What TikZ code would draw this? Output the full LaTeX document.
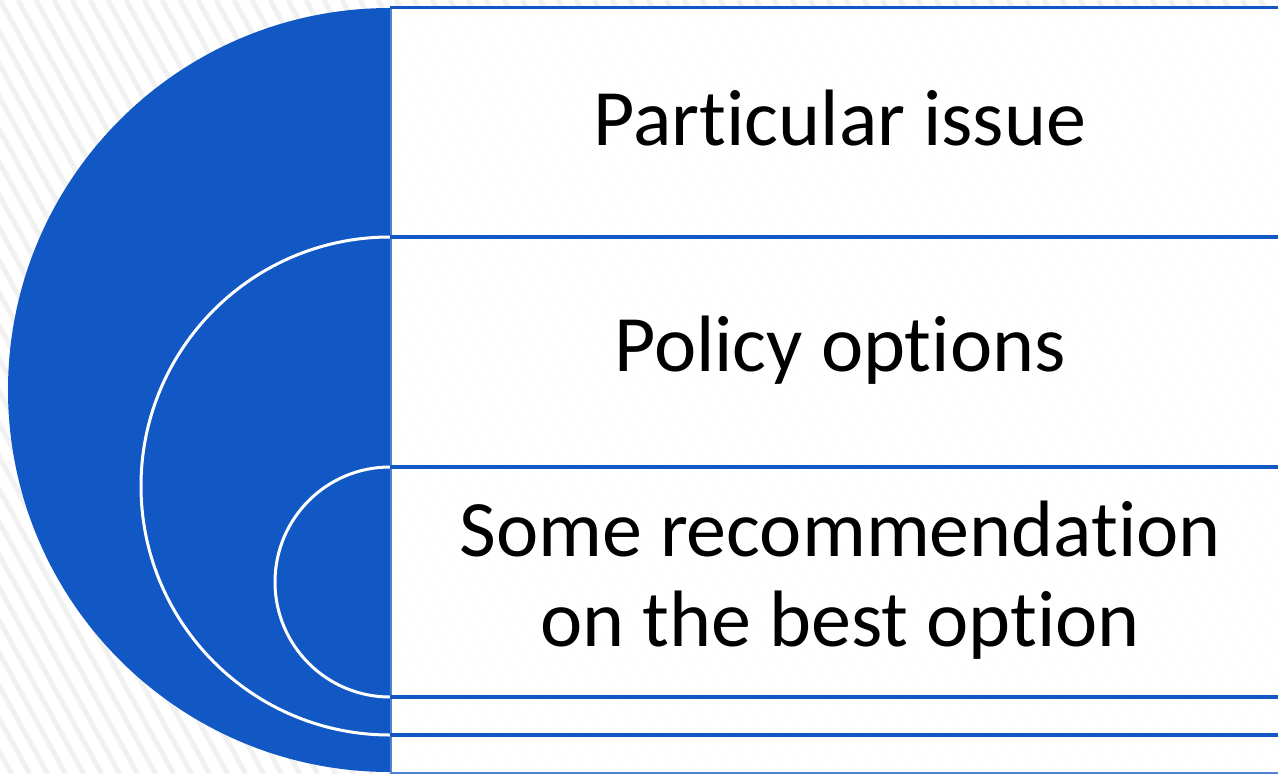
\documentclass[tikz,border=0pt]{standalone}
\usepackage{fontspec}
\setmainfont[Ligatures={NoCommon,NoRare,NoContextual}]{Carlito}
\definecolor{mainblue}{RGB}{17,88,196}
\definecolor{edgeblue}{RGB}{80,130,210}
\definecolor{stripe}{RGB}{241,241,241}
\begin{document}
\begin{tikzpicture}[x=1pt,y=-1pt,
  hline/.style={draw=mainblue,line width=3.4pt},
  label/.style={font=\fontsize{80}{90}\selectfont,align=center,text=black,inner sep=0pt},
  whitearc/.style={draw=white,line width=3pt}]
\useasboundingbox (0,0) rectangle (1278,774);
\fill[white] (0,0) rectangle (1278,774);
% background stripes
\begin{scope}
\clip (0,0) rectangle (1278,774);
\foreach \i in {-30,...,75}{
  \draw[stripe,line width=5pt] ({\i*18},0) -- ({\i*18+0.55*774},774);
}
\end{scope}
% right bands
\fill[white,opacity=0.93] (390,8) rectangle (1278,772);
% blue half disc
\fill[mainblue] (390,8) arc[start angle=270,end angle=90,radius=382] -- cycle;
\draw[whitearc] (390,237) arc[start angle=270,end angle=90,radius=249];
\draw[whitearc] (390,467) arc[start angle=270,end angle=90,radius=115];
% lines
\draw[edgeblue,line width=1.8pt] (391,6) -- (391,773);
\draw[hline] (390,7.5) -- (1278,7.5);
\draw[hline] (390,237) -- (1278,237);
\draw[hline] (390,467) -- (1278,467);
\draw[hline] (390,697) -- (1278,697);
\draw[hline] (390,735) -- (1278,735);
\draw[edgeblue,line width=2pt] (390,773) -- (1278,773);
% texts
\node[label] (t1) at (840,118) {Particular issue};
\node[label] (t2) at (840,350) {Policy options};
\node[label] (t3) at (840,580) {Some recommendation\\on the best option};
\end{tikzpicture}
\end{document}
